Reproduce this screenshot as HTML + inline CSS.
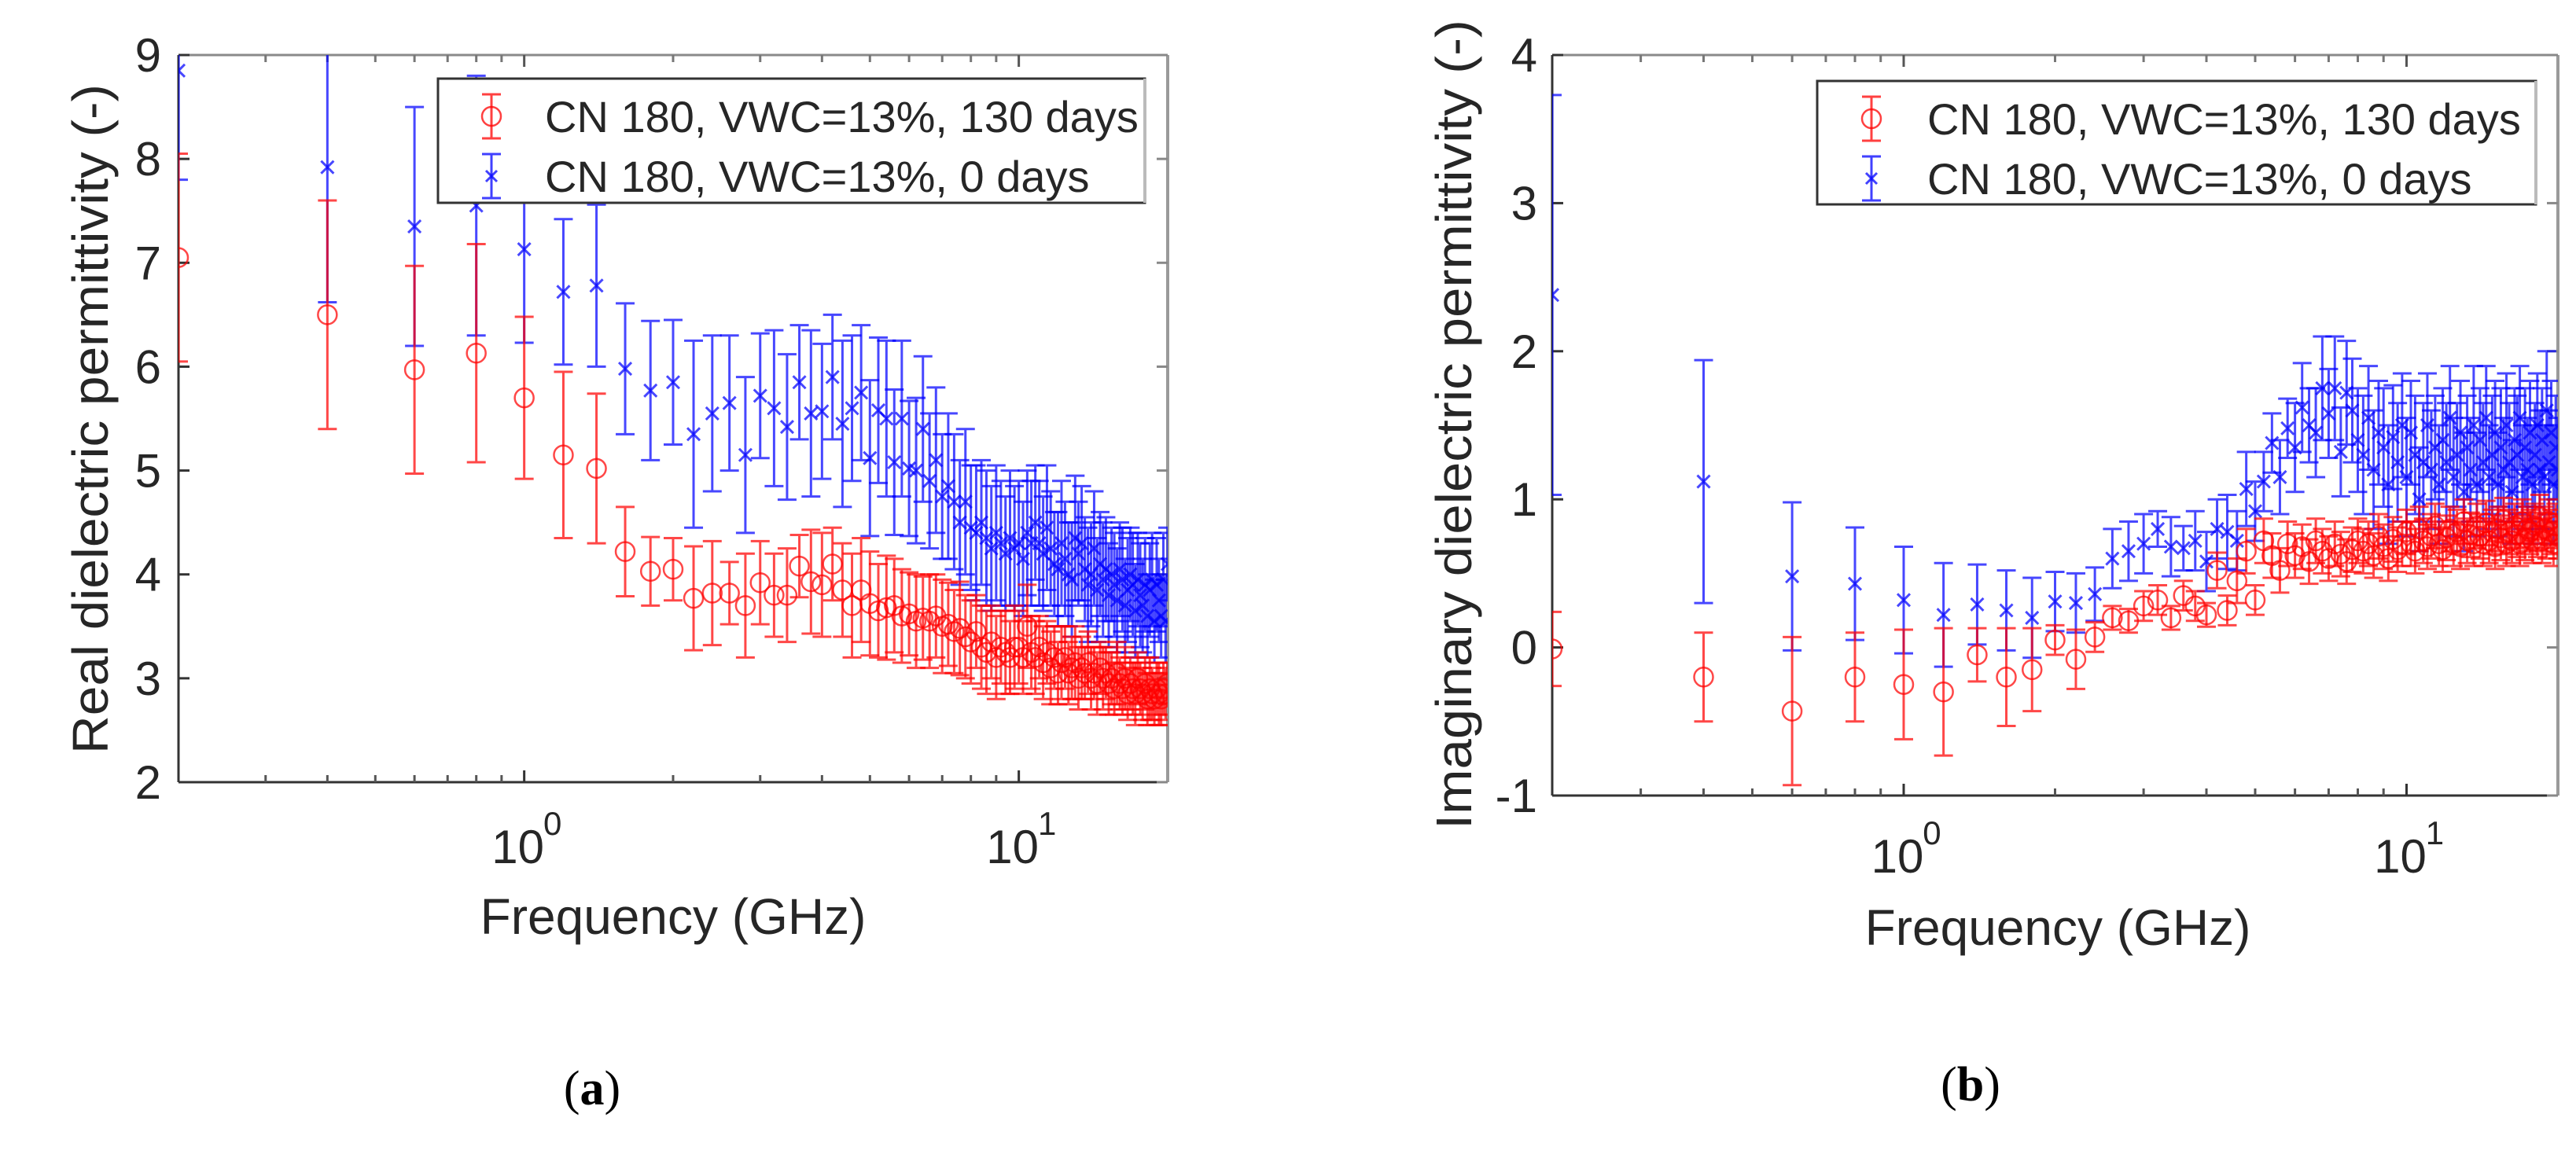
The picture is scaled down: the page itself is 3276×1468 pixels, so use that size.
<!DOCTYPE html>
<html><head><meta charset="utf-8">
<style>
html,body{margin:0;padding:0;background:#fff;}
svg{display:block;}
text{font-family:"Liberation Sans",sans-serif;fill:#262626;}
</style></head>
<body>
<svg id="fig" width="3276" height="1468" viewBox="0 0 3276 1468" xmlns="http://www.w3.org/2000/svg">
<defs>
<clipPath id="clipA"><rect x="227" y="70" width="1258" height="925"/></clipPath>
<clipPath id="clipB"><rect x="1974" y="70" width="1279" height="942"/></clipPath>
</defs>
<g id="panelA"></g>
<g id="panelB"></g>
<text x="753" y="1405" text-anchor="middle" style="font-family:'Liberation Serif',serif;font-size:62px;fill:#000">(<tspan font-weight="bold">a</tspan>)</text>
<text x="2506" y="1400" text-anchor="middle" style="font-family:'Liberation Serif',serif;font-size:62px;fill:#000">(<tspan font-weight="bold">b</tspan>)</text>
</svg>
<script>
const freqs = [0.2,0.4,0.6,0.8,1.0,1.2,1.4,1.6,1.8,2.0,2.2,2.4,2.6,2.8,3.0,3.2,3.4,3.6,3.8,4.0,4.2,4.4,4.6,4.8,5.0,5.2,5.4,5.6,5.8,6.0,6.2,6.4,6.6,6.8,7.0,7.2,7.4,7.6,7.8,8.0,8.2,8.4,8.6,8.8,9.0,9.2,9.4,9.6,9.8,10.0,10.2,10.4,10.6,10.8,11.0,11.2,11.4,11.6,11.8,12.0,12.2,12.4,12.6,12.8,13.0,13.2,13.4,13.6,13.8,14.0,14.2,14.4,14.6,14.8,15.0,15.2,15.4,15.6,15.8,16.0,16.2,16.4,16.6,16.8,17.0,17.2,17.4,17.6,17.8,18.0,18.2,18.4,18.6,18.8,19.0,19.2,19.4,19.6,19.8,20.0];

// Panel (a) real permittivity
const realBlue = [8.85,7.92,7.35,7.55,7.13,6.72,6.78,5.98,5.77,5.85,5.35,5.55,5.65,5.15,5.72,5.6,5.42,5.85,5.55,5.57,5.9,5.45,5.6,5.75,5.12,5.58,5.5,5.08,5.5,5.02,5.0,5.4,4.9,5.1,4.75,4.85,4.7,4.5,4.7,4.45,4.4,4.5,4.35,4.25,4.4,4.3,4.2,4.35,4.25,4.3,4.15,4.4,4.3,4.5,4.3,4.2,4.45,4.25,4.1,4.05,4.3,4.15,4.0,3.95,4.35,4.2,4.3,4.05,3.9,4.0,4.25,3.85,4.1,3.95,4.05,3.8,4.0,3.9,3.75,4.05,3.95,3.7,3.85,4.0,3.9,3.65,3.95,3.8,3.7,3.9,3.6,3.85,3.95,3.55,3.9,3.75,3.6,3.95,3.55,4.1];
const realBlueErr = [1.05,1.3,1.15,1.25,0.9,0.7,0.78,0.63,0.67,0.6,0.9,0.75,0.65,0.75,0.6,0.75,0.7,0.55,0.8,0.65,0.6,0.8,0.7,0.65,0.75,0.7,0.75,0.7,0.75,0.65,0.7,0.7,0.65,0.7,0.6,0.7,0.65,0.6,0.7,0.6,0.65,0.6,0.65,0.6,0.65,0.6,0.55,0.65,0.6,0.6,0.55,0.6,0.6,0.55,0.6,0.55,0.6,0.55,0.5,0.55,0.6,0.55,0.5,0.55,0.6,0.5,0.55,0.5,0.55,0.5,0.55,0.5,0.5,0.55,0.5,0.5,0.45,0.5,0.5,0.45,0.5,0.45,0.5,0.45,0.5,0.45,0.45,0.5,0.45,0.45,0.4,0.45,0.45,0.4,0.45,0.4,0.4,0.45,0.4,0.35];
const realRed = [7.05,6.5,5.97,6.13,5.7,5.15,5.02,4.22,4.03,4.05,3.77,3.82,3.82,3.7,3.92,3.8,3.8,4.08,3.93,3.9,4.1,3.85,3.7,3.85,3.72,3.65,3.68,3.7,3.6,3.62,3.55,3.58,3.55,3.6,3.5,3.52,3.45,3.48,3.4,3.35,3.45,3.3,3.25,3.35,3.2,3.3,3.25,3.2,3.3,3.3,3.2,3.5,3.25,3.2,3.3,3.15,3.25,3.1,3.2,3.05,3.15,3.2,3.05,3.1,3.15,3.0,3.1,3.05,3.15,3.0,3.05,2.95,3.1,3.0,3.05,2.95,3.0,2.9,3.05,2.95,2.9,3.0,2.85,2.95,2.9,2.85,3.0,2.9,2.85,2.95,2.8,2.9,2.85,2.8,2.9,2.85,2.8,2.9,2.85,2.95];
const realRedErr = [1.0,1.1,1.0,1.05,0.78,0.8,0.72,0.43,0.33,0.3,0.5,0.5,0.3,0.5,0.4,0.4,0.45,0.3,0.5,0.5,0.35,0.45,0.5,0.5,0.5,0.45,0.5,0.45,0.45,0.4,0.45,0.4,0.45,0.4,0.45,0.4,0.4,0.45,0.4,0.4,0.35,0.4,0.4,0.35,0.4,0.35,0.4,0.35,0.4,0.35,0.35,0.4,0.35,0.35,0.3,0.35,0.3,0.35,0.3,0.3,0.35,0.3,0.3,0.3,0.35,0.3,0.3,0.25,0.3,0.3,0.25,0.3,0.25,0.3,0.25,0.3,0.25,0.25,0.3,0.25,0.25,0.3,0.25,0.25,0.25,0.3,0.25,0.25,0.25,0.25,0.25,0.3,0.25,0.25,0.25,0.3,0.25,0.25,0.25,0.2];

// Panel (b) imaginary permittivity
const imagBlue = [2.38,1.12,0.48,0.43,0.32,0.22,0.29,0.25,0.2,0.31,0.3,0.36,0.6,0.65,0.7,0.8,0.68,0.67,0.72,0.58,0.8,0.78,0.72,1.07,0.92,1.12,1.38,1.15,1.48,1.35,1.62,1.5,1.45,1.75,1.58,1.75,1.32,1.72,1.6,1.4,1.3,1.55,1.2,1.45,1.35,1.1,1.42,1.25,1.5,1.15,1.45,1.3,1.0,1.25,1.5,1.2,1.35,1.1,1.4,1.25,1.55,1.15,1.3,1.45,1.05,1.35,1.2,1.5,1.1,1.4,1.25,1.55,1.15,1.3,1.45,1.1,1.35,1.2,1.5,1.25,1.05,1.4,1.3,1.55,1.15,1.35,1.2,1.45,1.1,1.3,1.5,1.2,1.4,1.15,1.6,1.25,1.45,1.1,1.35,1.2];
const imagBlueErr = [1.35,0.82,0.5,0.38,0.36,0.35,0.27,0.27,0.27,0.2,0.2,0.18,0.2,0.2,0.2,0.12,0.2,0.15,0.2,0.2,0.2,0.25,0.2,0.25,0.2,0.2,0.2,0.25,0.2,0.3,0.3,0.25,0.3,0.35,0.3,0.35,0.3,0.35,0.35,0.35,0.4,0.35,0.4,0.35,0.4,0.4,0.35,0.4,0.35,0.4,0.35,0.4,0.35,0.4,0.35,0.4,0.35,0.4,0.35,0.4,0.35,0.4,0.35,0.35,0.4,0.35,0.35,0.4,0.35,0.35,0.4,0.35,0.35,0.4,0.35,0.35,0.4,0.35,0.35,0.4,0.35,0.35,0.4,0.35,0.35,0.4,0.35,0.35,0.4,0.35,0.35,0.4,0.35,0.35,0.4,0.35,0.35,0.4,0.35,0.35];
const imagRed = [-0.01,-0.2,-0.43,-0.2,-0.25,-0.3,-0.05,-0.2,-0.15,0.05,-0.08,0.07,0.2,0.18,0.28,0.32,0.2,0.35,0.28,0.22,0.52,0.25,0.45,0.65,0.32,0.72,0.62,0.52,0.7,0.62,0.68,0.58,0.72,0.65,0.6,0.7,0.63,0.58,0.66,0.72,0.65,0.7,0.62,0.75,0.68,0.6,0.73,0.66,0.7,0.78,0.7,0.65,0.8,0.72,0.68,0.75,0.82,0.7,0.66,0.74,0.8,0.7,0.78,0.68,0.85,0.72,0.76,0.7,0.82,0.75,0.7,0.84,0.72,0.78,0.68,0.8,0.74,0.86,0.7,0.78,0.72,0.82,0.76,0.7,0.85,0.74,0.8,0.78,0.72,0.82,0.76,0.88,0.72,0.8,0.75,0.85,0.78,0.7,0.82,0.75];
const imagRedErr = [0.25,0.3,0.5,0.3,0.37,0.43,0.18,0.33,0.28,0.1,0.2,0.1,0.08,0.08,0.1,0.1,0.08,0.1,0.1,0.08,0.12,0.1,0.15,0.15,0.1,0.15,0.15,0.15,0.15,0.15,0.15,0.15,0.15,0.15,0.15,0.15,0.15,0.15,0.15,0.15,0.15,0.15,0.15,0.15,0.15,0.15,0.15,0.15,0.15,0.15,0.15,0.15,0.15,0.15,0.15,0.15,0.15,0.15,0.15,0.15,0.15,0.15,0.15,0.15,0.15,0.15,0.15,0.15,0.15,0.15,0.15,0.15,0.15,0.15,0.15,0.15,0.15,0.15,0.15,0.15,0.15,0.15,0.15,0.15,0.15,0.15,0.15,0.15,0.15,0.15,0.15,0.15,0.15,0.15,0.15,0.15,0.15,0.15,0.15,0.15];

const ticksA = [2,3,4,5,6,7,8,9];
const ticksB = [-1,0,1,2,3,4];
const legendLabels = ["CN 180, VWC=13%, 130 days","CN 180, VWC=13%, 0 days"];

const NS = "http://www.w3.org/2000/svg";
function mk(tag, attrs, parent){
  const e = document.createElementNS(NS, tag);
  for (const k in attrs) e.setAttribute(k, attrs[k]);
  parent.appendChild(e);
  return e;
}

function drawPanel(cfg){
  const g = document.getElementById(cfg.id);
  const L=cfg.left,R=cfg.right,T=cfg.top,B=cfg.bottom;
  const xs = f => L + (Math.log10(f) - Math.log10(0.2)) / (Math.log10(20) - Math.log10(0.2)) * (R - L);
  const ys = v => B - (v - cfg.ymin) / (cfg.ymax - cfg.ymin) * (B - T);

  const box = mk('g', {}, g);
  
  
  mk('line',{x1:L,y1:T,x2:R,y2:T,stroke:'#8a8a8a','stroke-width':3},box);
  mk('line',{x1:R,y1:T,x2:R,y2:B,stroke:'#9a9a9a','stroke-width':4},box);
  mk('line',{x1:L,y1:T,x2:L,y2:B,stroke:'#333','stroke-width':3},box);
  mk('line',{x1:L,y1:B,x2:R,y2:B,stroke:'#333','stroke-width':3},box);

  const yt = mk('g',{},g);
  
  
  cfg.ticks.forEach(v=>{
    const y = ys(v);
    mk('line',{x1:L,y1:y,x2:L+14,y2:y,stroke:'#333','stroke-width':3},yt);
    mk('line',{x1:R,y1:y,x2:R-14,y2:y,stroke:'#888','stroke-width':3},yt);
    const t = mk('text',{x:cfg.ylabX,y:y+21,'text-anchor':'end','font-size':60},yt);
    t.textContent = String(v);
    
    
  });

  const xt = mk('g',{},g);
  
  
  const minors = [0.3,0.4,0.5,0.6,0.7,0.8,0.9,2,3,4,5,6,7,8,9];
  minors.forEach(f=>{
    const x = xs(f);
    mk('line',{x1:x,y1:B,x2:x,y2:B-9,stroke:'#555','stroke-width':3},xt);
    mk('line',{x1:x,y1:T,x2:x,y2:T+9,stroke:'#777','stroke-width':3},xt);
  });
  [1,10].forEach((f,i)=>{
    const x = xs(f);
    mk('line',{x1:x,y1:B,x2:x,y2:B-15,stroke:'#333','stroke-width':3},xt);
    mk('line',{x1:x,y1:T,x2:x,y2:T+15,stroke:'#555','stroke-width':3},xt);
    const t = mk('text',{x:x-8,y:cfg.xlabY,'text-anchor':'middle','font-size':60},xt);
    t.textContent = '10';
    
    
    const s = mk('text',{x:x+36,y:cfg.xlabY-36,'text-anchor':'middle','font-size':42},xt);
    s.textContent = String(i);
    
    
  });

  const xtitle = mk('text',{x:cfg.xtX,y:cfg.xtY,'text-anchor':'middle','font-size':64},g);
  xtitle.textContent = 'Frequency (GHz)';
  
  
  const ytitle = mk('text',{x:0,y:0,'text-anchor':'middle','font-size':64,transform:`translate(${cfg.ytX},${cfg.ytY}) rotate(-90)`,textLength:cfg.ytLen,lengthAdjust:'spacingAndGlyphs'},g);
  ytitle.textContent = cfg.ytitle;
  
  

  const plot = mk('g',{'clip-path':`url(#${cfg.clip})`},g);
  
  
  function series(vals, errs, color, marker, name){
    const sg = mk('g',{stroke:color,'stroke-opacity':0.72,fill:'none','stroke-width':3},plot);
    
    
    const n = Math.min(freqs.length, vals.length, errs.length);
    for(let i=0;i<n;i++){
      const x = xs(freqs[i]), y = ys(vals[i]);
      const y1 = ys(vals[i]-errs[i]), y2 = ys(vals[i]+errs[i]);
      const eb = mk('path',{d:`M${x},${y1}V${y2}M${x-12},${y1}H${x+12}M${x-12},${y2}H${x+12}`},sg);
      
      
      let m;
      if(marker==='o'){
        m = mk('circle',{cx:x,cy:y,r:12,'stroke-width':2.5},sg);
      } else {
        m = mk('path',{d:`M${x-8},${y-8}L${x+8},${y+8}M${x-8},${y+8}L${x+8},${y-8}`,'stroke-width':3},sg);
      }
      
      
    }
  }
  series(cfg.blue, cfg.blueErr, '#0000ff', 'x', 'series-0-days');
  series(cfg.red, cfg.redErr, '#ff0000', 'o', 'series-130-days');

  const lg = mk('g',{},g);
  
  
  mk('rect',{x:cfg.lgX,y:cfg.lgY,width:cfg.lgW,height:cfg.lgH,fill:'#fff',stroke:'#333','stroke-width':3},lg);
  mk('line',{x1:cfg.lgX+cfg.lgW,y1:cfg.lgY,x2:cfg.lgX+cfg.lgW,y2:cfg.lgY+cfg.lgH,stroke:'#bbb','stroke-width':4},lg);
  const cols = ['#ff0000','#0000ff'];
  legendLabels.forEach((lab,i)=>{
    const cy = cfg.lgY + 48 + i*76;
    const mx = cfg.lgMarkX;
    const e = mk('g',{stroke:cols[i],'stroke-opacity':0.75,fill:'none','stroke-width':3},lg);
    
    
    mk('path',{d:`M${mx},${cy-28}V${cy+28}M${mx-12},${cy-28}H${mx+12}M${mx-12},${cy+28}H${mx+12}`},e);
    if(i===0) mk('circle',{cx:mx,cy:cy,r:12,'stroke-width':2.5},e);
    else mk('path',{d:`M${mx-7},${cy-7}L${mx+7},${cy+7}M${mx-7},${cy+7}L${mx+7},${cy-7}`},e);
    const t = mk('text',{x:cfg.lgTextX,y:cy+20,'font-size':56,fill:'#111'},lg);
    t.textContent = lab;
    
    
  });
}

drawPanel({id:'panelA',clip:'clipA',left:227,right:1485,top:70,bottom:995,ymin:2,ymax:9,ticks:ticksA,
  blue:realBlue,blueErr:realBlueErr,red:realRed,redErr:realRedErr,
  ylabX:205,xlabY:1098,xtX:856,xtY:1188,ytX:137,ytY:533,ytLen:852,ytitle:'Real dielectric permittivity (-)',
  lgX:557,lgY:100,lgW:899,lgH:158,lgMarkX:625,lgTextX:693});
drawPanel({id:'panelB',clip:'clipB',left:1974,right:3253,top:70,bottom:1012,ymin:-1,ymax:4,ticks:ticksB,
  blue:imagBlue,blueErr:imagBlueErr,red:imagRed,redErr:imagRedErr,
  ylabX:1955,xlabY:1110,xtX:2617,xtY:1202,ytX:1871,ytY:540,ytLen:1030,ytitle:'Imaginary dielectric permittivity (-)',
  lgX:2311,lgY:103,lgW:914,lgH:157,lgMarkX:2380,lgTextX:2451});
</script>
</body></html>
